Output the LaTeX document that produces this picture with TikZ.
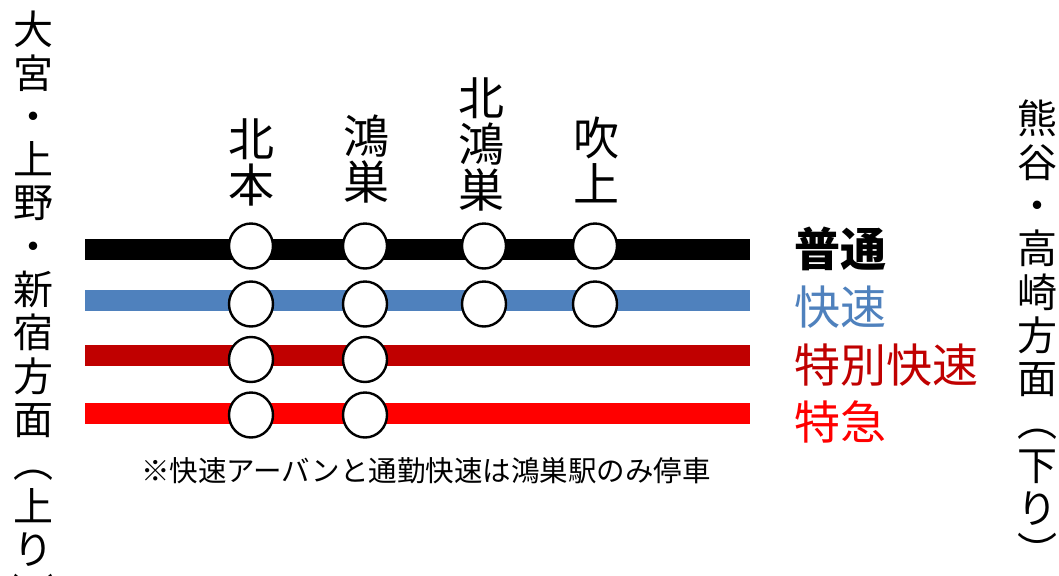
\documentclass[tikz,border=0pt]{standalone}
\usepackage{fontspec}
\setmainfont{Noto Sans CJK JP}
\usetikzlibrary{shapes.geometric}
\definecolor{lblue}{HTML}{4F81BD}
\definecolor{dred}{HTML}{C00000}
\definecolor{bred}{HTML}{FF0000}
\begin{document}
\begin{tikzpicture}[x=1pt,y=-1pt,
 track/.style={line width=21pt},
 stop/.style={ellipse,draw=black,line width=2.4pt,fill=white,minimum width=44pt,minimum height=45pt,inner sep=0pt},
 stn/.style={font=\fontsize{46}{46}\selectfont,align=center,anchor=north,inner sep=0pt},
 side/.style={font=\fontsize{40}{43.3}\selectfont,align=center,anchor=north,inner sep=0pt},
 legend/.style={font=\fontsize{46}{46}\selectfont,anchor=west,inner sep=0pt}]
\useasboundingbox[fill=white] (0,0) rectangle (1059,575);
% tracks
\coordinate (a1) at (85,249.5); \coordinate (a2) at (750,249.5);
\coordinate (b1) at (85,300.5); \coordinate (b2) at (750,300.5);
\coordinate (c1) at (85,355.5); \coordinate (c2) at (750,355.5);
\coordinate (d1) at (85,413.5); \coordinate (d2) at (750,413.5);
\draw[track,black] (a1) -- (a2);
\draw[track,lblue] (b1) -- (b2);
\draw[track,dred] (c1) -- (c2);
\draw[track,bred] (d1) -- (d2);
% stops
\node[stop] (a-kitamoto) at (251,246) {};
\node[stop] (a-konosu) at (365,246) {};
\node[stop] (a-kitakonosu) at (484,246) {};
\node[stop] (a-fukiage) at (595,246) {};
\node[stop] (b-kitamoto) at (251,304) {};
\node[stop] (b-konosu) at (365,304) {};
\node[stop] (b-kitakonosu) at (484,304) {};
\node[stop] (b-fukiage) at (595,304) {};
\node[stop] (c-kitamoto) at (251,359.5) {};
\node[stop] (c-konosu) at (365,359.5) {};
\node[stop] (d-kitamoto) at (251,415) {};
\node[stop] (d-konosu) at (365,415) {};
% station names
\node[stn] (n-kitamoto) at (251,118) {北\\本};
\node[stn] (n-konosu) at (366,115) {鴻\\巣};
\node[stn] (n-kitakonosu) at (481,77) {北\\鴻\\巣};
\node[stn] (n-fukiage) at (596,117) {吹\\上};
% legend
\node[legend,text=black,font=\fontsize{46}{46}\selectfont\bfseries] (l-local) at (794,249) {普通};
\node[legend,text=lblue] (l-rapid) at (794,307) {快速};
\node[legend,text=dred] (l-special) at (794,365) {特別快速};
\node[legend,text=bred] (l-ltd) at (794,422) {特急};
% note
\node[font=\fontsize{28.5}{30}\selectfont,inner sep=0pt] (note) at (426,471) {※快速アーバンと通勤快速は鴻巣駅のみ停車};
% direction labels
\node[side] (left-dir) at (33,11) {大\\宮\\・\\上\\野\\・\\新\\宿\\方\\面\\︵\\上\\り\\︶};
\node[side] (right-dir) at (1037,100) {熊\\谷\\・\\高\\崎\\方\\面\\︵\\下\\り\\︶};
\end{tikzpicture}
\end{document}
